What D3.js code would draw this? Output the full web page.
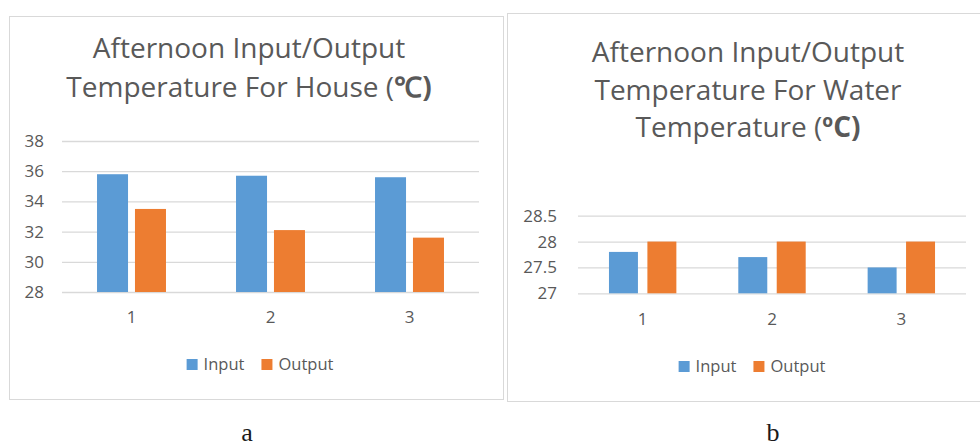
<!DOCTYPE html>
<html>
<head>
<meta charset="utf-8">
<script src="https://cdn.jsdelivr.net/npm/d3@7"></script>
<style>
  html, body { margin: 0; padding: 0; background: #fff; }
  svg { display: block; }
  text { font-family: "Open Sans", sans-serif; fill: #595959; }
  text.plabel { font-family: "Liberation Serif", "DejaVu Serif", serif; fill: #1a1a1a; }
</style>
</head>
<body>
<svg id="chart" width="980" height="446"></svg>
<script>
// ---- Data ----
const categories = ["1", "2", "3"];
const seriesNames = ["Input", "Output"];
const houseInput = [35.8, 35.7, 35.6];
const houseOutput = [33.5, 32.1, 31.6];
const waterInput = [27.8, 27.7, 27.5];
const waterOutput = [28, 28, 28];
const houseTicks = [28, 30, 32, 34, 36, 38];
const waterTicks = [27, 27.5, 28, 28.5];
const houseTitle = ["Afternoon Input/Output", "Temperature For House (", "℃)"];
const waterTitle = ["Afternoon Input/Output", "Temperature For Water", "Temperature (", "ºC)"];
const panelLabels = ["a", "b"];

const colors = ["#5b9bd5", "#ed7d31"];
const svg = d3.select("#chart");

function drawPanel(cfg) {
  const g = svg.append("g");
  // panel frame
  g.append("rect")
    .attr("x", cfg.frame[0] + 0.5).attr("y", cfg.frame[1] + 0.5)
    .attr("width", cfg.frame[2]).attr("height", cfg.frame[3])
    .attr("fill", "#fff").attr("stroke", "#d9d9d9").attr("stroke-width", 1);

  // title
  const t = g.append("text").attr("text-anchor", "middle").attr("font-size", cfg.titleSize);
  cfg.titleLines.forEach((line, i) => {
    const ts = t.append("tspan").attr("x", cfg.titleX).attr("y", cfg.titleY[i]);
    if (Array.isArray(line)) {
      ts.text(line[0]);
      ts.append("tspan").attr("font-weight", "bold").text(line[1]);
    } else {
      ts.text(line);
    }
  });

  const x0 = d3.scaleBand().domain(categories).range([cfg.plot.left, cfg.plot.right]);
  const x1 = d3.scaleBand().domain(seriesNames).range([0, x0.bandwidth()])
    .paddingInner(cfg.pi).paddingOuter(cfg.po);
  const y = d3.scaleLinear().domain([cfg.ticks[0], cfg.ticks[cfg.ticks.length - 1]])
    .range([cfg.plot.bottom, cfg.plot.top]);

  // y axis with gridlines
  const ya = g.append("g").attr("transform", `translate(${cfg.plot.left},0)`)
    .call(d3.axisLeft(y).tickValues(cfg.ticks).tickFormat(d => String(d))
      .tickSizeInner(-(cfg.plot.right - cfg.plot.left)).tickSizeOuter(0).tickPadding(cfg.yPad));
  ya.select(".domain").remove();
  ya.selectAll(".tick line").attr("stroke", "#d9d9d9").attr("stroke-width", 1.3);
  ya.selectAll(".tick text").attr("font-size", cfg.tickSize);

  // bars
  const data = categories.map((c, i) => ({ c, vals: [cfg.input[i], cfg.output[i]] }));
  const grp = g.selectAll(".grp").data(data).join("g")
    .attr("transform", d => `translate(${x0(d.c)},0)`);
  grp.selectAll("rect").data(d => d.vals.map((v, k) => ({ k, v }))).join("rect")
    .attr("x", d => x1(seriesNames[d.k]))
    .attr("width", x1.bandwidth())
    .attr("y", d => y(d.v))
    .attr("height", d => y(cfg.ticks[0]) - y(d.v))
    .attr("fill", d => colors[d.k]);

  // x axis labels
  const xa = g.append("g").attr("transform", `translate(0,${cfg.plot.bottom})`)
    .call(d3.axisBottom(x0).tickSize(0).tickPadding(cfg.xPad));
  xa.select(".domain").remove();
  xa.selectAll(".tick text").attr("font-size", cfg.tickSize);

  // legend
  const lg = g.append("g");
  let cx = 0;
  seriesNames.forEach((s, k) => {
    const it = lg.append("g").attr("transform", `translate(${cx},0)`);
    it.append("rect").attr("x", 0).attr("y", -11).attr("width", 11).attr("height", 11)
      .attr("fill", colors[k]);
    const tx = it.append("text").attr("x", 17).attr("y", 0).attr("font-size", cfg.legendSize).text(s);
    const w = tx.node().getComputedTextLength();
    cx += 17 + w + 17;
  });
  const totalW = cx - 17;
  lg.attr("transform", `translate(${cfg.legendX - totalW / 2},${cfg.legendY})`);

  // panel label
  svg.append("text").attr("class", "plabel")
    .attr("x", cfg.labelX).attr("y", 441)
    .attr("text-anchor", "middle")
    .attr("font-size", 26)
    .text(cfg.label);
}

drawPanel({
  frame: [9, 16, 494, 383],
  titleLines: [houseTitle[0], [houseTitle[1], houseTitle[2]]],
  titleX: 249, titleY: [58, 97], titleSize: 28,
  plot: { left: 62, right: 479, top: 141, bottom: 292 },
  pi: 0.183, po: 0.923,
  ticks: houseTicks, input: houseInput, output: houseOutput,
  yPad: 18, xPad: 19, tickSize: 17, legendSize: 16.5,
  legendX: 260, legendY: 370,
  labelX: 247, label: panelLabels[0]
});

drawPanel({
  frame: [507, 13, 473, 388],
  titleLines: [waterTitle[0], waterTitle[1], [waterTitle[2], waterTitle[3]]],
  titleX: 748, titleY: [62, 100, 137], titleSize: 28,
  plot: { left: 578, right: 966, top: 215.7, bottom: 293.3 },
  pi: 0.246, po: 0.806,
  ticks: waterTicks, input: waterInput, output: waterOutput,
  yPad: 21, xPad: 20, tickSize: 17, legendSize: 16.5,
  legendX: 752, legendY: 372,
  labelX: 773, label: panelLabels[1]
});
</script>
</body>
</html>
